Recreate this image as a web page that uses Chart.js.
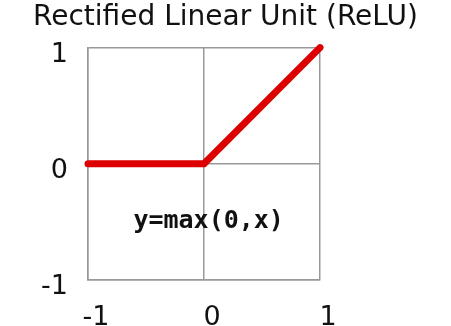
<!DOCTYPE html>
<html>
<head>
<meta charset="utf-8">
<script src="https://cdn.jsdelivr.net/npm/chart.js@4"></script>
<style>
  html, body { margin: 0; padding: 0; background: #fff; }
  #wrap { width: 451px; height: 326px; }
</style>
</head>
<body>
<div id="wrap"><canvas id="relu"></canvas></div>
<script>
// ReLU curve: y = max(0, x) sampled at its kink and ends
const xValues = [-1, 0, 1];
const yValues = [0, 0, 1];
const xTicks = [-1, 0, 1];
const yTicks = [-1, 0, 1];
const formula = "y=max(0,x)";
const formulaAt = [0.04, -0.5];

const points = xValues.map((x, i) => ({ x: x, y: yValues[i] }));

// formula label placed in data coordinates
const formulaLabel = {
  id: "formulaLabel",
  afterDatasetsDraw(chart) {
    const ctx = chart.ctx;
    const px = chart.scales.x.getPixelForValue(formulaAt[0]);
    const py = chart.scales.y.getPixelForValue(formulaAt[1]);
    ctx.save();
    ctx.font = "bold 25px 'DejaVu Sans Mono'";
    ctx.fillStyle = "#111";
    ctx.textAlign = "center";
    ctx.textBaseline = "middle";
    ctx.fillText(formula, px, py);
    ctx.restore();
  },
};

// let the title span the whole canvas instead of the padded width
const wideTitle = {
  id: "wideTitle",
  afterLayout(chart) {
    const t = chart.titleBlock;
    if (!t) return;
    t.left = 0;
    t.right = chart.width;
    t.width = chart.width;
  },
};

const tickFont = { family: "'DejaVu Sans'", size: 27 };

new Chart(document.getElementById("relu"), {
  type: "line",
  data: {
    datasets: [
      {
        data: points,
        borderColor: "#dd0000",
        borderWidth: 7,
        borderCapStyle: "round",
        pointRadius: 0,
        fill: false,
        tension: 0,
        clip: false,
      },
    ],
  },
  options: {
    responsive: true,
    maintainAspectRatio: false,
    animation: false,
    layout: { padding: { left: 0, right: 131, top: 0, bottom: 0 } },
    scales: {
      x: {
        type: "linear",
        min: -1,
        max: 1,
        afterBuildTicks: (axis) => { axis.ticks = xTicks.map((v) => ({ value: v })); },
        afterFit: (axis) => { axis.height = 46; },
        ticks: { font: tickFont, color: "#111", padding: 22, labelOffset: 8 },
        grid: { color: "#999", lineWidth: 1.5, drawTicks: false },
        border: { color: "#999", width: 1.5 },
      },
      y: {
        type: "linear",
        min: -1,
        max: 1,
        afterBuildTicks: (axis) => { axis.ticks = yTicks.map((v) => ({ value: v })); },
        afterFit: (axis) => { axis.width = 88; },
        ticks: { font: tickFont, color: "#111", padding: 20, labelOffset: 7 },
        grid: { color: "#999", lineWidth: 1.5, drawTicks: false },
        border: { color: "#999", width: 1.5 },
      },
    },
    plugins: {
      legend: { display: false },
      tooltip: { enabled: false },
      title: {
        display: true,
        text: "Rectified Linear Unit (ReLU)",
        color: "#111",
        font: { family: "'DejaVu Sans'", size: 28, weight: "normal" },
        padding: { top: 1, bottom: 13 },
      },
    },
  },
  plugins: [formulaLabel, wideTitle],
});
</script>
</body>
</html>
